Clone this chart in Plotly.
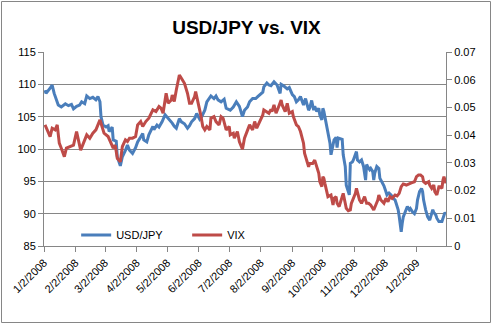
import plotly.graph_objects as go

# USD/JPY exchange rate (left axis)
jpy_dates = [
    "2008-01-03", "2008-01-04", "2008-01-08", "2008-01-10", "2008-01-12", "2008-01-14", "2008-01-16", "2008-01-19",
    "2008-01-23", "2008-01-26", "2008-01-29", "2008-01-31",
    "2008-02-03", "2008-02-06", "2008-02-08", "2008-02-11", "2008-02-13", "2008-02-16", "2008-02-19", "2008-02-22",
    "2008-02-24", "2008-02-26", "2008-02-27", "2008-02-29",
    "2008-03-03", "2008-03-05", "2008-03-06", "2008-03-09", "2008-03-10", "2008-03-13", "2008-03-14", "2008-03-17",
    "2008-03-19", "2008-03-22", "2008-03-24", "2008-03-26", "2008-03-29",
    "2008-04-01", "2008-04-03", "2008-04-05", "2008-04-08", "2008-04-09", "2008-04-12", "2008-04-14", "2008-04-18",
    "2008-04-19", "2008-04-22", "2008-04-24", "2008-04-27", "2008-04-30",
    "2008-05-03", "2008-05-05", "2008-05-07", "2008-05-09", "2008-05-11", "2008-05-12", "2008-05-14", "2008-05-16",
    "2008-05-19", "2008-05-22", "2008-05-24", "2008-05-26", "2008-05-29", "2008-05-31",
    "2008-06-03", "2008-06-05", "2008-06-08", "2008-06-10", "2008-06-14", "2008-06-17", "2008-06-19", "2008-06-21",
    "2008-06-24", "2008-06-27", "2008-06-29",
    "2008-07-03", "2008-07-06", "2008-07-09", "2008-07-12", "2008-07-15", "2008-07-17", "2008-07-20", "2008-07-22",
    "2008-07-25", "2008-07-28", "2008-07-30",
    "2008-08-01", "2008-08-04", "2008-08-05", "2008-08-08", "2008-08-10", "2008-08-12", "2008-08-15", "2008-08-18",
    "2008-08-21", "2008-08-22", "2008-08-25", "2008-08-28", "2008-08-30",
    "2008-09-02", "2008-09-04", "2008-09-06", "2008-09-08", "2008-09-10", "2008-09-13", "2008-09-15", "2008-09-18",
    "2008-09-19", "2008-09-21", "2008-09-23", "2008-09-24", "2008-09-26", "2008-09-28", "2008-09-29",
    "2008-10-01", "2008-10-02", "2008-10-03", "2008-10-04", "2008-10-06", "2008-10-07", "2008-10-09", "2008-10-10",
    "2008-10-12", "2008-10-13", "2008-10-15", "2008-10-16", "2008-10-17", "2008-10-20", "2008-10-21", "2008-10-22",
    "2008-10-24", "2008-10-25", "2008-10-27", "2008-10-28", "2008-10-29", "2008-10-31",
    "2008-11-01", "2008-11-03", "2008-11-04", "2008-11-05", "2008-11-07", "2008-11-09", "2008-11-10", "2008-11-11",
    "2008-11-13", "2008-11-14", "2008-11-15", "2008-11-17", "2008-11-18", "2008-11-20", "2008-11-21", "2008-11-22",
    "2008-11-24", "2008-11-26", "2008-11-27", "2008-11-29",
    "2008-12-01", "2008-12-03", "2008-12-04", "2008-12-06", "2008-12-08", "2008-12-10", "2008-12-12", "2008-12-13",
    "2008-12-15", "2008-12-16", "2008-12-18", "2008-12-19", "2008-12-20", "2008-12-22", "2008-12-24", "2008-12-26",
    "2008-12-27", "2008-12-29", "2008-12-31",
    "2009-01-02", "2009-01-03", "2009-01-05", "2009-01-07", "2009-01-08", "2009-01-09", "2009-01-11", "2009-01-13",
    "2009-01-15", "2009-01-16", "2009-01-18", "2009-01-19", "2009-01-21", "2009-01-22", "2009-01-24", "2009-01-27",
    "2009-01-28", "2009-01-30", "2009-01-31",
]
jpy_values = [
    109.1, 108.6, 109.4, 109.9, 108.6, 107.6, 106.8, 106.5,
    107.0, 106.7, 106.9, 106.2,
    106.6, 106.8, 107.3, 107.0, 108.2, 107.8, 108.0, 107.6,
    108.1, 107.3, 105.0, 103.7,
    103.4, 103.6, 102.7, 103.4, 101.4, 101.2, 98.8, 97.4,
    98.8, 99.8, 100.6, 99.8, 99.3,
    100.2, 101.1, 101.6, 102.4, 101.4, 101.1, 102.2, 103.5,
    103.0, 103.7, 103.4, 104.2, 105.3,
    104.8, 104.5, 104.0, 103.5, 103.2, 103.7, 104.7, 104.2,
    103.9, 103.2, 103.6, 104.2, 104.7, 105.5,
    104.6, 105.0, 106.0, 107.3, 108.2, 107.8, 108.2, 107.6,
    107.3, 107.7, 106.3,
    106.0, 106.5, 107.3, 106.6, 105.0, 106.0, 106.5, 107.3,
    107.8, 107.8, 108.1,
    108.4, 108.8, 109.6, 110.2, 109.9, 109.8, 110.4, 109.9,
    108.6, 110.0, 109.7, 109.3, 109.5,
    108.4, 108.1, 107.3, 107.6, 108.1, 106.8, 107.8, 106.0,
    106.3, 107.5, 106.0, 106.6, 105.8, 106.3, 105.3,
    104.5, 106.3, 105.8, 105.0, 103.5, 102.2, 100.9, 99.1,
    100.4, 101.4, 101.8, 100.2, 101.7, 101.6, 101.5, 99.1,
    97.3, 94.4, 93.2, 92.9, 97.8, 98.0,
    98.3, 99.3, 99.6, 98.3, 98.0, 98.3, 97.8, 97.3,
    95.2, 97.6, 97.3, 96.8, 97.0, 96.5, 95.2, 96.3,
    97.3, 97.0, 95.5, 95.0,
    94.3, 93.4, 92.9, 93.2, 92.9, 92.4, 92.1, 91.6,
    90.6, 89.6, 87.2, 88.5, 89.5, 90.3, 91.1, 90.6,
    90.8, 90.3, 90.0,
    90.8, 92.1, 93.4, 93.9, 93.4, 92.1, 90.6, 89.5,
    89.0, 89.5, 90.6, 90.2, 89.8, 89.3, 88.8, 88.8,
    89.3, 90.2, 89.9,
]

# VIX series (right axis)
vix_dates = [
    "2008-01-03", "2008-01-05", "2008-01-08", "2008-01-10", "2008-01-13", "2008-01-15", "2008-01-17", "2008-01-19",
    "2008-01-22", "2008-01-24", "2008-01-28", "2008-01-31",
    "2008-02-03", "2008-02-05", "2008-02-07", "2008-02-09", "2008-02-13", "2008-02-16", "2008-02-19", "2008-02-22",
    "2008-02-26", "2008-02-28",
    "2008-03-01", "2008-03-05", "2008-03-07", "2008-03-10", "2008-03-12", "2008-03-14", "2008-03-17", "2008-03-19",
    "2008-03-22", "2008-03-24", "2008-03-26", "2008-03-29",
    "2008-04-01", "2008-04-03", "2008-04-06", "2008-04-08", "2008-04-11", "2008-04-14", "2008-04-18", "2008-04-21",
    "2008-04-24", "2008-04-26", "2008-04-28",
    "2008-05-01", "2008-05-03", "2008-05-06", "2008-05-07", "2008-05-09", "2008-05-11", "2008-05-13", "2008-05-14",
    "2008-05-16", "2008-05-19", "2008-05-22", "2008-05-24", "2008-05-26", "2008-05-29", "2008-05-30",
    "2008-06-01", "2008-06-03", "2008-06-04", "2008-06-06", "2008-06-08", "2008-06-10", "2008-06-13", "2008-06-14",
    "2008-06-17", "2008-06-19", "2008-06-22", "2008-06-24", "2008-06-26", "2008-06-29",
    "2008-07-02", "2008-07-03", "2008-07-06", "2008-07-07", "2008-07-10", "2008-07-12", "2008-07-14", "2008-07-15",
    "2008-07-17", "2008-07-20", "2008-07-22", "2008-07-25", "2008-07-27", "2008-07-29",
    "2008-08-01", "2008-08-04", "2008-08-05", "2008-08-08", "2008-08-10", "2008-08-12", "2008-08-13", "2008-08-15",
    "2008-08-17", "2008-08-19", "2008-08-22", "2008-08-23", "2008-08-26", "2008-08-28", "2008-08-30",
    "2008-09-02", "2008-09-03", "2008-09-06", "2008-09-08", "2008-09-10", "2008-09-13", "2008-09-14", "2008-09-16",
    "2008-09-18", "2008-09-19", "2008-09-22", "2008-09-24", "2008-09-26", "2008-09-28", "2008-09-29",
    "2008-10-01", "2008-10-02", "2008-10-03", "2008-10-04", "2008-10-06", "2008-10-07", "2008-10-10", "2008-10-12",
    "2008-10-13", "2008-10-15", "2008-10-16", "2008-10-18", "2008-10-21", "2008-10-22", "2008-10-24", "2008-10-25",
    "2008-10-27", "2008-10-29", "2008-10-30",
    "2008-11-01", "2008-11-03", "2008-11-04", "2008-11-06", "2008-11-07", "2008-11-09", "2008-11-12", "2008-11-14",
    "2008-11-16", "2008-11-18", "2008-11-20", "2008-11-21", "2008-11-23", "2008-11-25", "2008-11-26", "2008-11-28",
    "2008-12-01", "2008-12-03", "2008-12-05", "2008-12-07", "2008-12-09", "2008-12-12", "2008-12-14", "2008-12-16",
    "2008-12-18", "2008-12-20", "2008-12-23", "2008-12-26", "2008-12-28", "2008-12-31",
    "2009-01-02", "2009-01-04", "2009-01-06", "2009-01-08", "2009-01-09", "2009-01-11", "2009-01-14", "2009-01-15",
    "2009-01-17", "2009-01-19", "2009-01-20", "2009-01-22", "2009-01-24", "2009-01-25", "2009-01-27", "2009-01-28",
    "2009-01-29", "2009-01-31",
]
vix_values = [
    0.0437, 0.0419, 0.0395, 0.0425, 0.0419, 0.0437, 0.0371, 0.0353,
    0.0322, 0.0353, 0.0359, 0.0364,
    0.0413, 0.0383, 0.0346, 0.0364, 0.0401, 0.0389, 0.0407, 0.0419,
    0.0455, 0.0431,
    0.0407, 0.0395, 0.0376, 0.0353, 0.0364, 0.0316, 0.0304, 0.0359,
    0.0383, 0.0377, 0.0389, 0.0389,
    0.0395, 0.0437, 0.0449, 0.0431, 0.0449, 0.0461, 0.0491, 0.0485,
    0.0503, 0.0497, 0.0479,
    0.0551, 0.0515, 0.0527, 0.0545, 0.0521, 0.0563, 0.0599, 0.0617,
    0.0605, 0.0587, 0.0551, 0.0515, 0.0515, 0.0539, 0.0557,
    0.0527, 0.0491, 0.0473, 0.0431, 0.0419, 0.0431, 0.0419, 0.0461,
    0.0467, 0.0449, 0.0437, 0.0467, 0.0461, 0.0419,
    0.0431, 0.0401, 0.0407, 0.0389, 0.0413, 0.0376, 0.0358, 0.0349,
    0.0389, 0.0419, 0.0437, 0.0419, 0.0449, 0.0425,
    0.0449, 0.0473, 0.0491, 0.0485, 0.0479, 0.0493, 0.0485, 0.0509,
    0.0479, 0.0497, 0.0527, 0.0509, 0.0485, 0.0515, 0.0479,
    0.0485, 0.0467, 0.0437, 0.0431, 0.0413, 0.0371, 0.0335, 0.0310,
    0.0286, 0.0298, 0.0298, 0.0310, 0.0286, 0.0262, 0.0232,
    0.0214, 0.0250, 0.0244, 0.0226, 0.0196, 0.0178, 0.0184, 0.0148,
    0.0172, 0.0178, 0.0154, 0.0142, 0.0178, 0.0190, 0.0154, 0.0136,
    0.0127, 0.0130, 0.0154,
    0.0172, 0.0190, 0.0208, 0.0184, 0.0166, 0.0154, 0.0178, 0.0154,
    0.0154, 0.0148, 0.0136, 0.0130, 0.0148, 0.0166, 0.0184, 0.0166,
    0.0154, 0.0172, 0.0160, 0.0178, 0.0172, 0.0184, 0.0181, 0.0190,
    0.0214, 0.0224, 0.0220, 0.0226, 0.0228, 0.0232,
    0.0250, 0.0256, 0.0256, 0.0250, 0.0232, 0.0226, 0.0232, 0.0220,
    0.0208, 0.0220, 0.0196, 0.0184, 0.0214, 0.0214, 0.0208, 0.0238,
    0.0250, 0.0226,
]

# Month ticks along the date axis
tick_dates = [
    "2008-01-02", "2008-02-02", "2008-03-02", "2008-04-02", "2008-05-02", "2008-06-02", "2008-07-02",
    "2008-08-02", "2008-09-02", "2008-10-02", "2008-11-02", "2008-12-02", "2009-01-02",
]
tick_labels = [
    "1/2/2008", "2/2/2008", "3/2/2008", "4/2/2008", "5/2/2008", "6/2/2008", "7/2/2008",
    "8/2/2008", "9/2/2008", "10/2/2008", "11/2/2008", "12/2/2008", "1/2/2009",
]

BLUE = "#4a7ebb"
RED = "#be4b48"
GRAY = "#868686"
FONT = "Liberation Sans"

fig = go.Figure()
fig.add_trace(go.Scatter(
    x=jpy_dates, y=jpy_values, name="USD/JPY", mode="lines",
    line=dict(color=BLUE, width=3), yaxis="y",
))
fig.add_trace(go.Scatter(
    x=vix_dates, y=vix_values, name="VIX", mode="lines",
    line=dict(color=RED, width=3), yaxis="y2",
))

axis_common = dict(
    showline=True, linecolor=GRAY, linewidth=1,
    ticks="outside", ticklen=5, tickcolor=GRAY,
    tickfont=dict(family=FONT, size=11, color="#000000"),
    zeroline=False,
)

fig.update_layout(
    width=493, height=325,
    margin=dict(l=44, r=47, t=52, b=79),
    paper_bgcolor="white", plot_bgcolor="white",
    title=dict(
        text="<b>USD/JPY vs. VIX</b>", x=0.5, xanchor="center",
        y=1 - 27 / 325, yanchor="middle",
        font=dict(family=FONT, size=19, color="#000000"),
    ),
    xaxis=dict(
        type="date", range=["2008-01-02", "2009-01-31"],
        tickmode="array", tickvals=tick_dates, ticktext=tick_labels,
        tickangle=-45, showgrid=False, **axis_common,
    ),
    yaxis=dict(
        range=[85, 115], dtick=5, tick0=85,
        showgrid=True, gridcolor=GRAY, gridwidth=1, **axis_common,
    ),
    yaxis2=dict(
        range=[0, 0.07], dtick=0.01, tick0=0, overlaying="y", side="right",
        showgrid=False, **axis_common,
    ),
    legend=dict(
        orientation="h", x=0.08, y=0.057, xanchor="left", yanchor="middle",
        bgcolor="rgba(0,0,0,0)", font=dict(family=FONT, size=11, color="#000000"),
        itemwidth=30, entrywidth=66,
    ),
    showlegend=True,
    shapes=[dict(
        type="rect", xref="paper", yref="paper",
        x0=(1.5 - 44) / 402, x1=(490.5 - 44) / 402,
        y0=(246 - 322.5) / 194, y1=(246 - 1.5) / 194,
        line=dict(color=GRAY, width=1), fillcolor="rgba(0,0,0,0)", layer="below",
    )],
)

fig.write_html("out.html")
